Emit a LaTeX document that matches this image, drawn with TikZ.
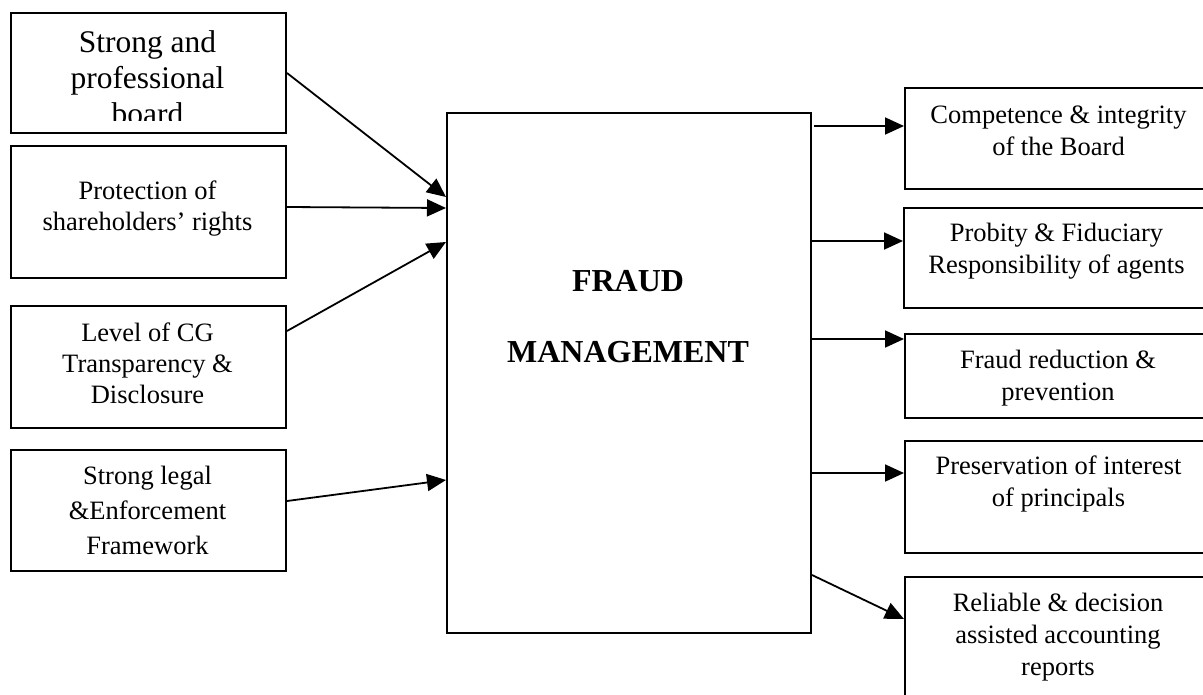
\documentclass[tikz,border=0pt]{standalone}
\usepackage{fontspec}
\setmainfont{Liberation Serif}
\usetikzlibrary{arrows.meta,calc}
\begin{document}
\begin{tikzpicture}[x=1pt,y=-1pt,
  box/.style={draw,line width=2pt,rectangle,inner sep=0pt,anchor=north west},
  txt/.style={align=center,inner sep=0pt,font=\fontsize{26.5}{31}\selectfont},
  txtwide/.style={align=center,inner sep=0pt,font=\fontsize{26.5}{35}\selectfont},
  txtright/.style={align=center,inner sep=0pt,font=\fontsize{26.5}{32}\selectfont},
  arr/.style={line width=1.8pt,-{Triangle[length=19pt,width=17pt]}}]
\useasboundingbox (0,0) rectangle (1203,694);
\clip (0,0) rectangle (1203,694);
% left boxes
\node[box,minimum width=275pt,minimum height=120pt] (b1) at (10,12) {};
\node[box,minimum width=275pt,minimum height=132pt] (b2) at (10,145) {};
\node[box,minimum width=275pt,minimum height=122pt] (b3) at (10,305) {};
\node[box,minimum width=275pt,minimum height=121pt] (b4) at (10,449) {};
% central box
\node[box,minimum width=364pt,minimum height=520pt] (fm) at (446,112) {};
% right boxes
\node[box,minimum width=309pt,minimum height=101pt] (r1) at (904,87) {};
\node[box,minimum width=310pt,minimum height=100pt] (r2) at (903,207) {};
\node[box,minimum width=309pt,minimum height=84pt] (r3) at (904,333) {};
\node[box,minimum width=309pt,minimum height=112pt] (r4) at (904,440) {};
\node[box,minimum width=309pt,minimum height=144pt] (r5) at (904,576) {};
% texts
\begin{scope}
\clip (10,12) rectangle (285,120);
\node[align=center,inner sep=0pt,font=\fontsize{31.5}{36}\selectfont] (t1) at (147.5,81) {\strut Strong and\\\strut professional\\\strut board};
\end{scope}
\node[txt] (t2) at (147.5,208.3) {\strut Protection of\\\strut shareholders’ rights};
\node[txt] (t3) at (147.5,365.8) {\strut Level of CG\\\strut Transparency \&\\\strut Disclosure};
\node[txtwide] (t4) at (147.5,512) {\strut Strong legal\\\strut \&Enforcement\\\strut Framework};
\node[align=center,inner sep=0pt,font=\fontsize{32}{71}\selectfont\bfseries] (tf) at (628,312.3) {\strut FRAUD\\\strut MANAGEMENT};
\node[txtright] (tr1) at (1058.5,132.6) {\strut Competence \& integrity\\\strut of the Board};
\node[txtright] (tr2) at (1056.5,250.6) {\strut Probity \& Fiduciary\\\strut Responsibility of agents};
\node[txtright] (tr3) at (1058,377.6) {\strut Fraud reduction \&\\\strut prevention};
\node[txtright] (tr4) at (1058.5,484) {\strut Preservation of interest\\\strut of principals};
\node[txtright] (tr5) at (1058,636.6) {\strut Reliable \& decision\\\strut assisted accounting\\\strut reports};
% left arrows
\draw[arr] (b1.east) -- ($(fm.north west)+(0,85)$);
\draw[arr] ($(b2.north east)+(0,62)$) -- ($(fm.north west)+(0,96)$);
\draw[arr] ($(b3.north east)+(0,26)$) -- ($(fm.north west)+(0,130)$);
\draw[arr] ($(b4.north east)+(0,52)$) -- ($(fm.north west)+(0,368)$);
% right arrows
\draw[arr] ($(fm.north east)+(2,14)$) -- ($(r1.north west)+(0,39)$);
\draw[arr] ($(fm.north east)+(0,129)$) -- ($(r2.north west)+(0,34)$);
\draw[arr] ($(fm.north east)+(0,227)$) -- ($(r3.north west)+(0,6)$);
\draw[arr] ($(fm.north east)+(0,361)$) -- ($(r4.north west)+(0,33)$);
\draw[arr] ($(fm.south east)+(0,-59)$) -- ($(r5.north west)+(0,43)$);
\end{tikzpicture}
\end{document}
